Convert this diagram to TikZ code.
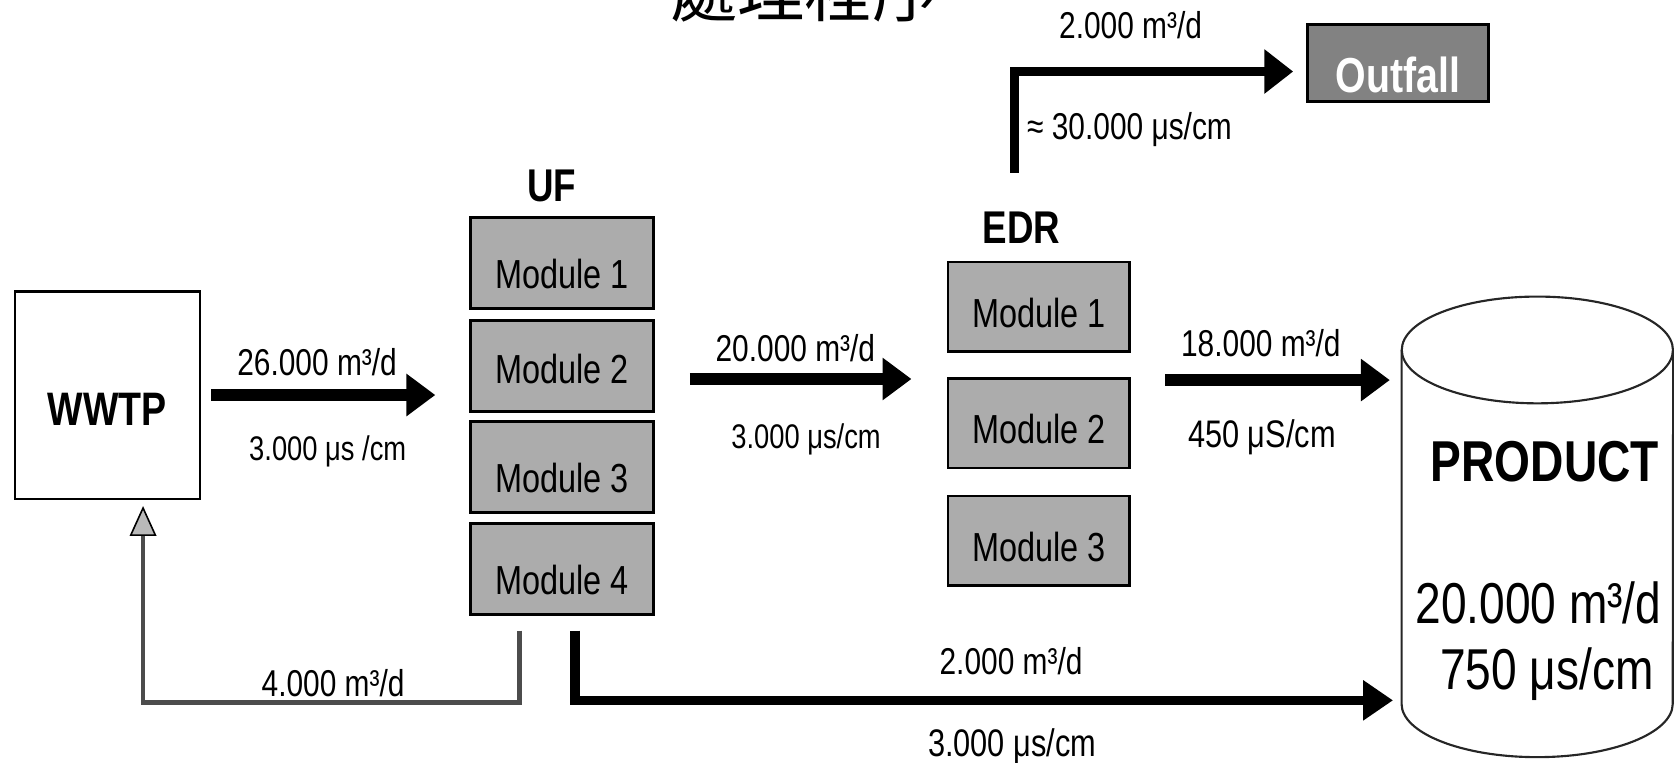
\documentclass[tikz,border=0pt]{standalone}
\usepackage{fontspec}
\setmainfont{Liberation Sans}[FakeStretch=0.8]
\newfontfamily\cjk{Noto Sans CJK TC}
\usetikzlibrary{arrows.meta}
\definecolor{modgray}{RGB}{172,172,172}
\definecolor{outgray}{RGB}{130,130,130}
\begin{document}
\begin{tikzpicture}[x=1pt,y=1pt,
  lab/.style={inner sep=0pt, anchor=base, font=\fontsize{35}{40}\selectfont},
  labs/.style={inner sep=0pt, anchor=base, font=\fontsize{32}{36}\selectfont},
  head/.style={inner sep=0pt, anchor=base, font=\bfseries\fontsize{43}{46}\selectfont},
  module/.style={draw, line width=2.5pt, fill=modgray, minimum width=171pt, minimum height=85pt,
    inner sep=0pt, text height=48pt, text depth=0pt, font=\fontsize{38}{40}\selectfont},
  edrmod/.style={module, minimum width=170pt, minimum height=84pt, text height=38pt},
  flow/.style={line width=11pt, -{Triangle[length=27pt,width=38pt]}},
  oflow/.style={line width=8pt, -{Triangle[length=27pt,width=40pt]}},
  bflow/.style={line width=9pt, -{Triangle[length=28pt,width=36pt]}},
  recyc/.style={line width=4.5pt, draw=black!70,
    -{Triangle[color=black, fill=gray!55, length=28pt, width=25pt, line width=1.5pt]}},
  cyl/.style={line width=2pt, draw=black!85},
]
\useasboundingbox (0,0) rectangle (1568,-714);

% title (cut off at top, as in the reference)
\node[anchor=base, inner sep=0pt, font=\cjk\fontsize{63}{70}\selectfont] (title) at (754,-15) {處理程序};

% WWTP
\node[draw, line width=2pt, minimum width=173pt, minimum height=194pt, inner sep=0pt,
  text height=57pt, text depth=0pt, font=\bfseries\fontsize{44}{48}\selectfont] (wwtp) at (100.5,-370) {WWTP};

% UF
\node[head] (uflab) at (517,-189) {UF};
\node[module] (uf1) at (526.5,-246.5) {Module 1};
\node[module, text height=33pt] (uf2) at (526.5,-343) {Module 2};
\node[module] (uf3) at (526.5,-437.5) {Module 3};
\node[module] (uf4) at (526.5,-533) {Module 4};

% EDR
\node[head] (edrlab) at (957,-228) {EDR};
\node[edrmod] (edr1) at (973,-287.5) {Module 1};
\node[edrmod] (edr2) at (973,-396.5) {Module 2};
\node[edrmod] (edr3) at (973,-506.5) {Module 3};

% Outfall
\node[draw, line width=2.5pt, fill=outgray, minimum width=170pt, minimum height=72pt, inner sep=0pt,
  text=white, text height=55pt, text depth=0pt, font=\bfseries\fontsize{46}{50}\selectfont] (outfall) at (1309.5,-59) {Outfall};

% Product cylinder
\node[minimum width=254pt, minimum height=331pt, inner sep=0pt] (prod) at (1440,-493.5) {};
\draw[cyl] (prod.north west) -- (prod.south west)
  arc[start angle=180, end angle=360, x radius=127pt, y radius=50pt] -- (prod.north east);
\draw[cyl] (prod.north) ellipse [x radius=127pt, y radius=50pt];
\node[inner sep=0pt, anchor=base, font=\bfseries\fontsize{54}{58}\selectfont] (ptxt) at (1447,-451) {PRODUCT};
\node[inner sep=0pt, anchor=base, font=\fontsize{54}{58}\selectfont] (pq) at (1441,-584) {20.000 m³/d};
\node[inner sep=0pt, anchor=base, font=\fontsize{54}{58}\selectfont] (pc) at (1449,-646) {750 μs/cm};

% labels
\node[lab] (l26) at (297,-352) {26.000 m³/d};
\node[labs] (l3a) at (307,-431) {3.000 μs /cm};
\node[lab] (l20) at (745,-339) {20.000 m³/d};
\node[labs] (l3b) at (755,-420) {3.000 μs/cm};
\node[lab] (l18) at (1181,-334) {18.000 m³/d};
\node[lab, font=\fontsize{36}{40}\selectfont] (l450) at (1182,-419) {450 μS/cm};
\node[lab] (l2t) at (1059,-36) {2.000 m³/d};
\node[lab] (l30) at (1058,-131) {≈ 30.000 μs/cm};
\node[lab] (l4) at (312,-652) {4.000 m³/d};
\node[lab] (l2b) at (947,-632) {2.000 m³/d};
\node[lab, font=\fontsize{36}{40}\selectfont] (l3c) at (948,-709) {3.000 μs/cm};

% helper coordinates
\coordinate (y20) at (0,-355);
\coordinate (y18) at (0,-356);
\coordinate (ybot) at (0,-656);
\coordinate (yrec) at (0,-658);
\coordinate (ofs) at (950,-162);

% connectors
\draw[flow] ([xshift=10pt]wwtp.east) -- ([xshift=-32pt]wwtp.east -| uf2.west);
\draw[flow] ([xshift=33pt]uf2.east |- y20) -- ([xshift=-33pt]edr1.west |- y20);
\draw[flow] ([xshift=32pt]edr1.east |- y18) -- ([xshift=-11pt]prod.west |- y18);
\draw[oflow] (ofs) |- ([xshift=-12pt,yshift=-8pt]outfall.west);
\draw[bflow] ([xshift=12pt,yshift=-14pt]uf4.south) |- ([xshift=-8pt]prod.west |- ybot);
\draw[recyc] ([xshift=-40pt,yshift=-14pt]uf4.south) |- ([xshift=33.5pt]wwtp.south |- yrec)
  -- ([xshift=33.5pt,yshift=-6pt]wwtp.south);
\end{tikzpicture}
\end{document}
